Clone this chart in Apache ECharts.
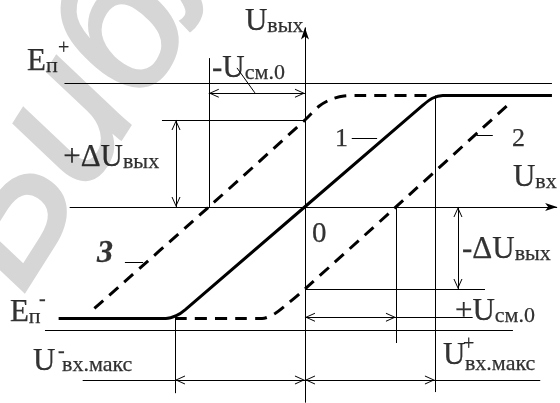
<!DOCTYPE html>
<html>
<head>
<meta charset="utf-8">
<script src="https://cdn.jsdelivr.net/npm/echarts@6/dist/echarts.min.js"></script>
<style>
  html, body { margin: 0; padding: 0; background: #fff; }
  #chart { width: 560px; height: 403px; }
</style>
</head>
<body>
<div id="chart"></div>
<script>
// Op-amp transfer characteristic Uвых(Uвх):
// 1 — without input offset, 2 and 3 — shifted by +Uсм.0 and -Uсм.0.

// Characteristic levels (relative units)
const E_RAIL = 11.1;      // supply rails ±Eп
const U_SAT = 10;         // output saturation level
const U_IN_MAX = 10;      // ±Uвх.макс
const U_OFF_NEG = -7.4;   // -Uсм.0 : zero crossing of curve 3
const U_OFF_POS = 7.0;    // +Uсм.0 : zero crossing of curve 2
const DU_POS = 7.8;       // +ΔUвых : curve 3 at Uвх = 0
const DU_NEG = -7.35;     // -ΔUвых : curve 2 at Uвх = 0

// Curves [Uвх, Uвых]
const curve1 = [[-18.95, -10], [-12.5, -10], [-10.7, -10], [-9.9, -9.75], [-9.2, -9.2],
                [9.1, 9.15], [9.8, 9.75], [10.6, 10], [12.5, 10], [19.0, 10]];
const curve2 = [[-10, -10], [-5, -10], [-3.3, -10], [-2.3, -9.55], [-1.2, -8.55],
                [0, -7.35], [7.0, 0], [15.8, 9.35]];
const curve3 = [[-16.2, -9.1], [-7.4, 0], [0, 7.8], [1.1, 9.05], [2.0, 9.65],
                [3.0, 9.95], [4.2, 10], [9.8, 10]];

// Visible extent of the plane
const X_MIN = -23.46, X_MAX = 19.62;
const Y_MIN = -17.58, Y_MAX = 18.56;

// Axis ends
const X_AXIS = [-18.1, 19.4];
const Y_AXIS = [-17.55, 16.1];

// Open arrowhead with its tip at the symbol centre, filled axis arrowhead
const OPEN = 'path://M4.5,0L4.52,0L4.5,0.02Z M4.5,10 L9,20 L8,20 L4.5,12.2 L1,20 L0,20Z';
const AXIS = 'path://M4,0L4.02,0L4,0.02Z M4,12 L8,24 L4,21 L0,24Z';

function seg(a, b, s0, s1) {
  const end = (p, s) => {
    const o = { coord: p, symbol: s || 'none' };
    if (s === OPEN) o.symbolSize = [9, 20];
    if (s === AXIS) o.symbolSize = [8, 24];
    return o;
  };
  return [end(a, s0), end(b, s1)];
}

const guides = [
  // axes
  seg([X_AXIS[0], 0], [X_AXIS[1], 0], null, AXIS),
  seg([0, Y_AXIS[0]], [0, Y_AXIS[1]], null, AXIS),
  // supply rails
  seg([-18.5, E_RAIL], [19.0, E_RAIL]),
  seg([-20.0, -E_RAIL], [16.0, -E_RAIL]),
  // -Uсм.0
  seg([U_OFF_NEG, 13.35], [U_OFF_NEG, 0]),
  seg([U_OFF_NEG, 10.2], [0, 10.2], OPEN, OPEN),
  seg([-5.23, 12.47], [-3.85, 10.23]),
  // +ΔUвых
  seg([-11.0, DU_POS], [0, DU_POS]),
  seg([-9.92, DU_POS], [-9.92, 0], OPEN, OPEN),
  // -ΔUвых
  seg([0, DU_NEG], [13.85, DU_NEG]),
  seg([11.77, 0], [11.77, DU_NEG], OPEN, OPEN),
  // +Uсм.0
  seg([U_OFF_POS, 0], [U_OFF_POS, -12.2]),
  seg([0, -9.9], [U_OFF_POS, -9.9], OPEN, OPEN),
  seg([U_OFF_POS, -9.9], [12.9, -9.9]),
  // ±Uвх.макс
  seg([U_IN_MAX, U_SAT], [U_IN_MAX, -16.6]),
  seg([-U_IN_MAX, -U_SAT], [-U_IN_MAX, -16.7]),
  seg([-17.1, -15.52], [-U_IN_MAX, -15.52]),
  seg([-U_IN_MAX, -15.52], [0, -15.52], OPEN, OPEN),
  seg([0, -15.52], [U_IN_MAX, -15.52], OPEN, OPEN),
  seg([U_IN_MAX, -15.52], [18.1, -15.52]),
  // curve number leaders
  seg([3.6, 6.19], [5.55, 6.19]),
  seg([13.2, 6.46], [14.45, 6.46]),
  seg([-13.85, -4.93], [-12.45, -4.93])
];

// Text annotations: anchor = left edge, vertical centre
const notes = [
  { at: [-4.62, 16.64], text: '{m|U}{s|вых}' },
  { at: [-21.38, 13.0], text: '{m|E}{s|п}' },
  { at: [-19.0, 14.17], text: '{p|+}' },
  { at: [-7.15, 12.38], text: '{m|-U}{s|см.0}' },
  { at: [-18.6, 4.44], text: '{m|+ΔU}{s|вых}' },
  { at: [2.31, 6.1], text: '{d|1}' },
  { at: [15.92, 6.1], text: '{d|2}' },
  { at: [16.0, 2.65], text: '{m|U}{s|вх}' },
  { at: [-16.0, -4.2], text: '{b|3}' },
  { at: [0.54, -2.42], text: '{z|0}' },
  { at: [12.08, -3.86], text: '{m|-ΔU}{s|вых}' },
  { at: [-22.7, -9.5], text: '{m|E}{s|п}' },
  { at: [-20.46, -8.34], text: '{p|-}' },
  { at: [11.54, -9.42], text: '{m|+U}{s|см.0}' },
  { at: [-20.92, -13.9], text: '{m|U}' },
  { at: [-19.0, -13.0], text: '{p|-}' },
  { at: [-18.69, -14.22], text: '{s|вх.макс}' },
  { at: [10.62, -13.36], text: '{m|U}' },
  { at: [12.15, -12.38], text: '{p|+}' },
  { at: [12.31, -14.13], text: '{s|вх.макс}' }
];

const SERIF = '"Liberation Serif", "Times New Roman", serif';
const ink = (size, extra) => Object.assign({
  fontSize: size, fontFamily: SERIF, color: '#000',
  textBorderColor: '#000', textBorderWidth: 0.25
}, extra || {});

const curveLine = (data, dashed) => ({
  type: 'line',
  data: data,
  smooth: 0.3,
  symbol: 'none',
  silent: true,
  z: dashed ? 3 : 4,
  lineStyle: { color: '#000', width: 3, type: dashed ? [12, 8] : 'solid' }
});

const chart = echarts.init(document.getElementById('chart'), null, { renderer: 'canvas' });
chart.setOption({
  animation: false,
  backgroundColor: '#fff',
  grid: { left: 0, right: 0, top: 0, bottom: 0 },
  xAxis: { type: 'value', min: X_MIN, max: X_MAX, show: false },
  yAxis: { type: 'value', min: Y_MIN, max: Y_MAX, show: false },
  graphic: [{
    type: 'text',
    x: -100, y: 218,
    rotation: Math.PI * 0.32,
    z: 0,
    silent: true,
    style: {
      text: 'Библиотека БГУИР',
      font: 'italic 185px "Liberation Sans", sans-serif',
      fill: '#d6d6d6',
      stroke: '#d6d6d6',
      lineWidth: 4
    }
  }],
  series: [
    curveLine(curve3, true),
    curveLine(curve2, true),
    Object.assign(curveLine(curve1, false), {
      markLine: {
        silent: true,
        animation: false,
        symbol: ['none', 'none'],
        label: { show: false },
        emphasis: { disabled: true },
        lineStyle: { color: '#000', width: 1, type: 'solid' },
        data: guides
      }
    }),
    {
      type: 'scatter',
      symbolSize: 0,
      silent: true,
      z: 5,
      data: notes.map(n => ({ value: n.at, label: { formatter: n.text } })),
      label: {
        show: true,
        position: 'right',
        distance: 0,
        color: '#000',
        fontFamily: SERIF,
        rich: {
          m: ink(31),
          s: ink(22, { verticalAlign: 'bottom' }),
          p: ink(20),
          d: ink(26),
          z: ink(29),
          b: ink(32, { fontWeight: 'bold', fontStyle: 'italic', textBorderWidth: 0.3 })
        }
      }
    }
  ]
});
</script>
</body>
</html>
